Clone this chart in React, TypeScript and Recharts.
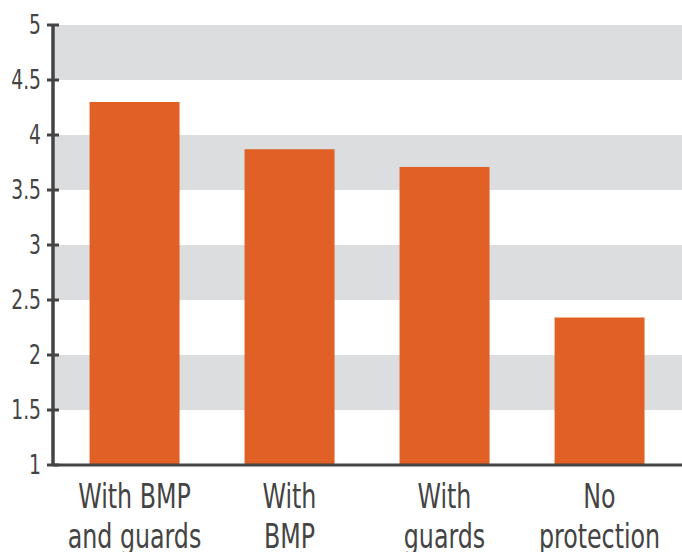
import React from 'react'
import { BarChart, Bar, XAxis, YAxis, CartesianGrid } from 'recharts'

const categories = ['With BMP\nand guards', 'With\nBMP', 'With\nguards', 'No\nprotection']
const scores = [4.3, 3.87, 3.71, 2.34]
const yTicks = [1, 1.5, 2, 2.5, 3, 3.5, 4, 4.5, 5]
// stripes between ticks, top down: grey, white, grey, ...
const stripeColors = ['#dcdddf', '#ffffff']

const data = categories.map((name, i) => ({ name, value: scores[i] }))

const FONT = '"DejaVu Sans Condensed", "DejaVu Sans", sans-serif'
const INK = '#444444'

// the original uses a tall condensed face, so squeeze the text horizontally
const YTick = (props: any) => {
  const { y, payload } = props
  return (
    <g>
      <line x1={47} x2={59} y1={y} y2={y} stroke={INK} strokeWidth={3} />
      <text
        transform={`translate(41,${y + 9}) scale(0.8,1)`}
        textAnchor="end"
        fill={INK}
        fontSize={26}
        fontFamily={FONT}
      >
        {payload.value}
      </text>
    </g>
  )
}

const XTick = (props: any) => {
  const { x, payload } = props
  const lines = String(payload.value).split('\n')
  return (
    <text
      transform={`translate(${x},508) scale(0.8,1)`}
      textAnchor="middle"
      fill={INK}
      fontSize={33}
      fontFamily={FONT}
    >
      {lines.map((l, i) => (
        <tspan key={i} x={0} dy={i === 0 ? 0 : 40}>
          {l}
        </tspan>
      ))}
    </text>
  )
}

export default function App() {
  return (
    <div style={{ position: 'absolute', left: 0, top: 0 }}>
      <BarChart
        width={682}
        height={552}
        data={data}
        margin={{ top: 25, right: 0, bottom: 0, left: 0 }}
        barCategoryGap="21%"
      >
        <CartesianGrid
          vertical={false}
          horizontalFill={stripeColors}
          fillOpacity={1}
          stroke="none"
          strokeOpacity={0}
        />
        <XAxis
          dataKey="name"
          height={87}
          interval={0}
          padding={{ left: 4, right: 5 }}
          axisLine={{ stroke: INK, strokeWidth: 3 }}
          tickLine={false}
          tick={<XTick />}
        />
        <YAxis
          width={53}
          domain={[1, 5]}
          ticks={yTicks}
          allowDataOverflow
          axisLine={{ stroke: INK, strokeWidth: 3.5 }}
          tickLine={false}
          tick={<YTick />}
        />
        <Bar dataKey="value" fill="#e06026" isAnimationActive={false} />
      </BarChart>
    </div>
  )
}
